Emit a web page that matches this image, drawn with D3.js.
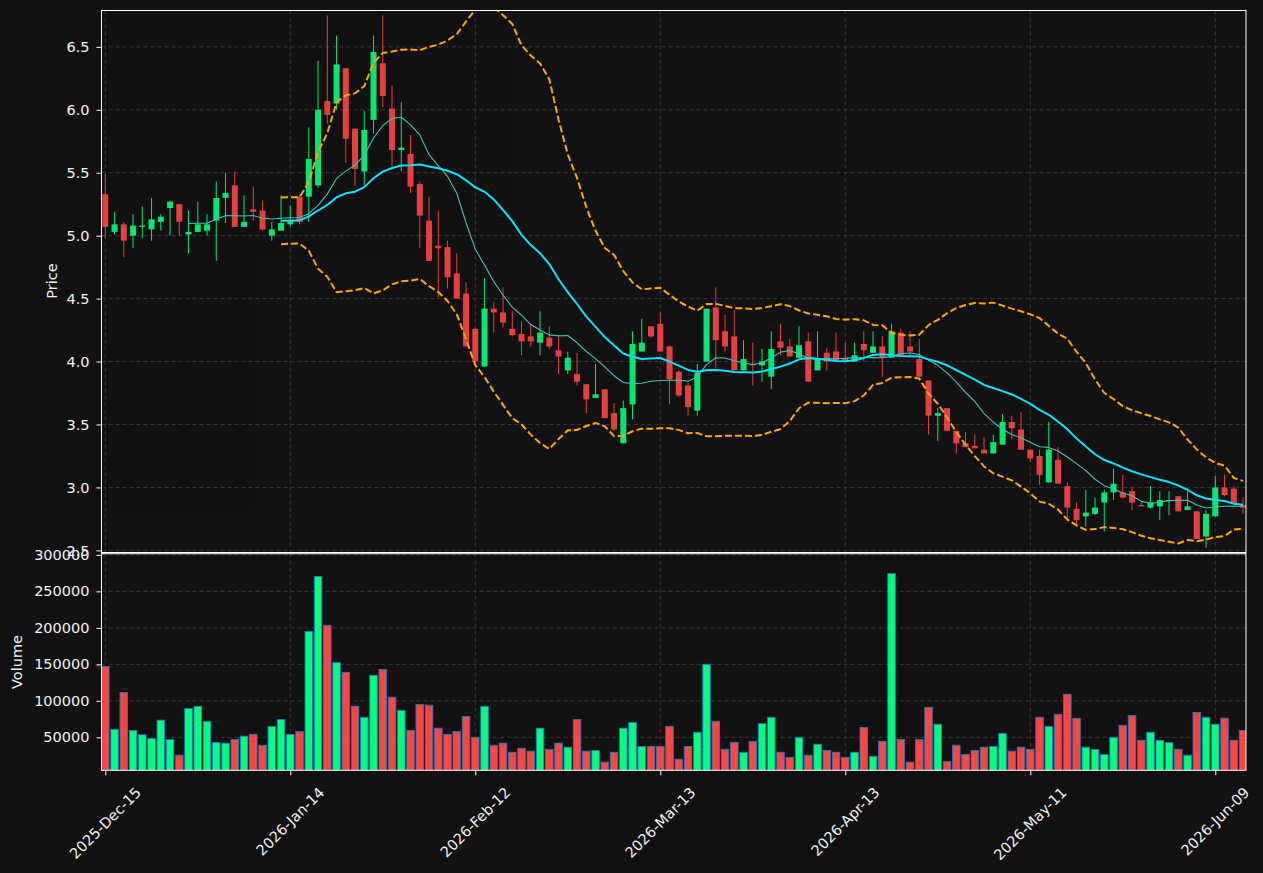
<!DOCTYPE html>
<html>
<head>
<meta charset="utf-8">
<script src="https://cdn.jsdelivr.net/npm/d3@7"></script>
<style>
  body { margin: 0; background: #111111; }
  svg text { font-family: "DejaVu Sans", sans-serif; fill: #f2f2f2; }
</style>
</head>
<body>
<div id="chart"></div>
<script>
// trading days, one bar per session; ticks every 20 bars
const tickIndex = [0, 20, 40, 60, 80, 100, 120];
const tickLabels = ["2025-Dec-15", "2026-Jan-14", "2026-Feb-12", "2026-Mar-13", "2026-Apr-13", "2026-May-11", "2026-Jun-09"];
const priceTicks = [2.5, 3.0, 3.5, 4.0, 4.5, 5.0, 5.5, 6.0, 6.5];
const volumeTicks = [50000, 100000, 150000, 200000, 250000, 300000];

const opens = [5.33, 5.03, 5.09, 5.00, 5.07, 5.05, 5.11, 5.22, 5.25, 5.01,
  5.03, 5.04, 5.12, 5.30, 5.40, 5.07, 5.21, 5.20, 5.00, 5.04,
  5.09, 5.31, 5.31, 5.40, 6.07, 6.05, 6.33, 5.85, 5.51, 5.92,
  6.37, 6.01, 5.68, 5.65, 5.41, 5.12, 4.92, 4.91, 4.70, 4.54,
  4.26, 3.96, 4.42, 4.39, 4.26, 4.22, 4.20, 4.15, 4.19, 4.09,
  3.93, 3.90, 3.82, 3.71, 3.78, 3.59, 3.35, 3.66, 4.08, 4.28,
  4.30, 4.12, 3.92, 3.81, 3.61, 4.00, 4.43, 4.24, 4.20, 3.93,
  3.98, 3.97, 3.88, 4.16, 4.12, 4.03, 4.16, 3.93, 4.07, 4.08,
  4.03, 4.00, 4.14, 4.07, 4.12, 4.03, 4.23, 4.12, 4.02, 3.85,
  3.57, 3.63, 3.45, 3.35, 3.33, 3.30, 3.27, 3.34, 3.52, 3.46,
  3.30, 3.25, 3.04, 3.22, 3.01, 2.83, 2.77, 2.79, 2.88, 2.96,
  2.96, 2.97, 2.86, 2.84, 2.85, 2.89, 2.93, 2.82, 2.81, 2.61,
  2.77, 3.00, 2.99, 2.86];
const highs = [5.49, 5.19, 5.11, 5.17, 5.23, 5.30, 5.17, 5.28, 5.25, 5.20,
  5.27, 5.17, 5.43, 5.50, 5.51, 5.32, 5.39, 5.28, 5.11, 5.32,
  5.24, 5.32, 5.86, 6.39, 6.75, 6.59, 6.33, 5.85, 5.99, 6.59,
  6.75, 6.19, 6.06, 5.80, 5.43, 5.31, 5.20, 4.96, 4.86, 4.63,
  4.27, 4.66, 4.47, 4.59, 4.40, 4.32, 4.30, 4.40, 4.28, 4.21,
  4.08, 4.07, 3.82, 3.98, 3.78, 3.67, 3.69, 4.24, 4.34, 4.28,
  4.39, 4.13, 3.93, 3.83, 3.98, 4.42, 4.59, 4.37, 4.41, 4.17,
  4.15, 4.10, 4.24, 4.30, 4.18, 4.28, 4.23, 4.24, 4.11, 4.23,
  4.15, 4.15, 4.24, 4.24, 4.20, 4.30, 4.26, 4.24, 4.18, 3.85,
  3.63, 3.63, 3.45, 3.44, 3.42, 3.40, 3.42, 3.58, 3.57, 3.60,
  3.30, 3.30, 3.52, 3.32, 3.04, 2.88, 2.98, 2.92, 2.98, 3.15,
  3.10, 3.00, 2.89, 3.01, 2.97, 2.97, 2.93, 2.97, 2.81, 2.82,
  3.09, 3.10, 3.01, 2.92];
const lows = [4.98, 5.01, 4.83, 4.90, 4.98, 4.96, 5.04, 5.00, 5.00, 4.86,
  5.03, 5.00, 4.80, 5.10, 5.07, 5.07, 5.12, 5.04, 4.96, 5.04,
  5.07, 5.09, 5.11, 5.38, 5.89, 6.00, 5.58, 5.40, 5.40, 5.81,
  6.02, 5.55, 5.51, 5.34, 4.90, 4.80, 4.51, 4.58, 4.50, 4.12,
  4.00, 3.96, 4.23, 4.27, 4.20, 4.05, 4.12, 4.05, 4.10, 3.90,
  3.90, 3.81, 3.59, 3.71, 3.55, 3.45, 3.35, 3.54, 4.08, 4.19,
  4.08, 3.66, 3.72, 3.57, 3.57, 4.00, 3.95, 4.08, 3.93, 3.93,
  3.81, 3.84, 3.78, 4.05, 4.04, 4.03, 3.84, 3.93, 3.93, 4.01,
  4.00, 4.00, 4.00, 4.07, 3.88, 4.03, 4.05, 4.05, 3.88, 3.42,
  3.37, 3.45, 3.27, 3.32, 3.31, 3.27, 3.27, 3.34, 3.38, 3.30,
  3.20, 3.02, 3.04, 3.03, 2.74, 2.69, 2.69, 2.78, 2.65, 2.90,
  2.91, 2.82, 2.85, 2.83, 2.74, 2.78, 2.81, 2.82, 2.59, 2.52,
  2.77, 2.93, 2.87, 2.79];
const closes = [5.07, 5.09, 4.96, 5.08, 5.08, 5.13, 5.15, 5.27, 5.11, 5.03,
  5.09, 5.09, 5.30, 5.34, 5.07, 5.11, 5.19, 5.05, 5.05, 5.10,
  5.12, 5.11, 5.61, 6.00, 5.96, 6.36, 5.77, 5.53, 5.84, 6.46,
  6.11, 5.68, 5.70, 5.39, 5.16, 4.80, 4.90, 4.67, 4.50, 4.12,
  4.00, 4.42, 4.39, 4.31, 4.21, 4.16, 4.16, 4.23, 4.12, 4.04,
  4.03, 3.84, 3.70, 3.74, 3.55, 3.46, 3.63, 4.14, 4.15, 4.20,
  4.08, 3.86, 3.73, 3.64, 3.91, 4.42, 4.17, 4.12, 3.93, 4.02,
  3.97, 4.00, 4.10, 4.11, 4.04, 4.13, 3.84, 4.02, 4.00, 4.01,
  4.01, 4.05, 4.09, 4.12, 4.03, 4.24, 4.05, 4.08, 3.88, 3.57,
  3.59, 3.45, 3.35, 3.32, 3.31, 3.27, 3.36, 3.52, 3.47, 3.30,
  3.23, 3.10, 3.30, 3.03, 2.84, 2.74, 2.80, 2.84, 2.96, 3.03,
  2.92, 2.88, 2.85, 2.88, 2.90, 2.90, 2.81, 2.85, 2.59, 2.79,
  3.00, 2.94, 2.87, 2.84];
const volumes = [147000, 61000, 111500, 59500, 53500, 48500, 73500, 47000, 25500, 89500,
  92500, 72000, 43000, 42000, 47000, 51500, 54000, 39000, 65000, 74500,
  54000, 58000, 195000, 270500, 203500, 152500, 139000, 92500, 77500, 135000,
  143000, 105000, 87000, 59500, 95000, 94000, 62500, 54000, 58000, 78500,
  50000, 92500, 39000, 42000, 29500, 35000, 31000, 62500, 33500, 42000,
  36500, 74500, 31000, 32000, 16000, 29500, 62500, 70500, 37500, 37500,
  37500, 65000, 20000, 37500, 57000, 150000, 72000, 33500, 43000, 29500,
  44500, 69000, 77500, 29500, 22500, 50000, 25500, 40500, 32000, 29500,
  22500, 29500, 63500, 24000, 44500, 274500, 47000, 16000, 47000, 91000,
  68000, 17000, 39000, 26500, 32000, 36500, 37500, 55500, 31000, 36500,
  33500, 77500, 65000, 81500, 109000, 76000, 36500, 33500, 26500, 50000,
  66500, 80000, 46000, 57000, 46000, 43000, 33500, 25500, 84000, 77500,
  68000, 76000, 46000, 59500];

const upColour = "#00ff80";
const downColour = "#ff4444";

function rollingMean(values, n) {
  return values.map((v, i) => i < n - 1 ? null : d3.mean(values.slice(i - n + 1, i + 1)));
}
function rollingStd(values, n) {
  return values.map((v, i) => i < n - 1 ? null : d3.deviation(values.slice(i - n + 1, i + 1)));
}

const ma10 = rollingMean(closes, 10);
const ma20 = rollingMean(closes, 20);
const sd20 = rollingStd(closes, 20);
const bbUpper = ma20.map((m, i) => m === null ? null : m + 2 * sd20[i]);
const bbLower = ma20.map((m, i) => m === null ? null : m - 2 * sd20[i]);

const width = 1263, height = 873;
const left = 101.5, right = 1246;
const priceTop = 10.5, priceBottom = 552.5;
const volTop = 553.7, volBottom = 770.3;

const svg = d3.select("#chart").append("svg")
  .attr("width", width).attr("height", height)
  .style("background", "#111111");

const x = d3.scaleLinear().domain([-0.41, 123.32]).range([left, right]);
const step = x(1) - x(0);
const yPrice = d3.scaleLinear().domain([2.483, 6.789]).range([priceBottom, priceTop]);
const yVol = d3.scaleLinear().domain([4800, 301600]).range([volBottom, volTop]);

const defs = svg.append("defs");
defs.append("clipPath").attr("id", "clipPrice").append("rect")
  .attr("x", left).attr("y", priceTop).attr("width", right - left).attr("height", priceBottom - priceTop);
defs.append("clipPath").attr("id", "clipVol").append("rect")
  .attr("x", left).attr("y", volTop).attr("width", right - left).attr("height", volBottom - volTop);

// grid
const gridColour = "#3a3a3a";
const grid = svg.append("g").attr("stroke", gridColour).attr("stroke-width", 0.9).attr("stroke-dasharray", "4,3");
grid.selectAll(".gp").data(priceTicks).enter().append("line")
  .attr("x1", left).attr("x2", right)
  .attr("y1", d => yPrice(d)).attr("y2", d => yPrice(d));
grid.selectAll(".gv").data(volumeTicks).enter().append("line")
  .attr("x1", left).attr("x2", right)
  .attr("y1", d => yVol(d)).attr("y2", d => yVol(d));
tickIndex.forEach(t => {
  grid.append("line").attr("x1", x(t)).attr("x2", x(t)).attr("y1", priceTop).attr("y2", priceBottom);
  grid.append("line").attr("x1", x(t)).attr("x2", x(t)).attr("y1", volTop).attr("y2", volBottom);
});

// candles
const bodyWidth = step * 0.65;
const candles = svg.append("g").attr("clip-path", "url(#clipPrice)").attr("opacity", 0.9);
const candle = candles.selectAll("g").data(d3.range(opens.length)).enter().append("g");
candle.append("line")
  .attr("x1", i => x(i)).attr("x2", i => x(i))
  .attr("y1", i => yPrice(highs[i])).attr("y2", i => yPrice(lows[i]))
  .attr("stroke", i => closes[i] >= opens[i] ? upColour : downColour)
  .attr("stroke-width", 1);
candle.append("rect")
  .attr("x", i => x(i) - bodyWidth / 2)
  .attr("width", bodyWidth)
  .attr("y", i => yPrice(Math.max(opens[i], closes[i])))
  .attr("height", i => Math.max(1.2, Math.abs(yPrice(opens[i]) - yPrice(closes[i]))))
  .attr("fill", i => closes[i] >= opens[i] ? upColour : downColour);

// moving averages and bands
function drawLine(values, colour, lineWidth, dash) {
  const line = d3.line()
    .defined(d => d !== null)
    .x((d, i) => x(i))
    .y(d => yPrice(d));
  svg.append("path")
    .attr("clip-path", "url(#clipPrice)")
    .datum(values)
    .attr("d", line)
    .attr("fill", "none")
    .attr("stroke", colour)
    .attr("stroke-width", lineWidth)
    .attr("stroke-dasharray", dash || null)
    .attr("stroke-linejoin", "round");
}
drawLine(ma10, "#40c2b3", 1.1);
drawLine(ma20, "#00e5ff", 2);
drawLine(bbUpper, "#ffa500", 2, "7,3");
drawLine(bbLower, "#ffa500", 2, "7,3");

// volume
svg.append("g").attr("clip-path", "url(#clipVol)")
  .selectAll("rect").data(volumes).enter().append("rect")
  .attr("x", (d, i) => x(i) - step * 0.41)
  .attr("width", step * 0.82)
  .attr("y", d => yVol(d))
  .attr("height", d => yVol.range()[0] - yVol(d) + 2)
  .attr("fill", (d, i) => closes[i] >= opens[i] ? upColour : downColour)
  .attr("stroke", "#1f77b4")
  .attr("stroke-width", 0.9);

// axes
const fontSize = "14.5px";
const priceAxis = svg.append("g").attr("transform", `translate(${left},0)`)
  .call(d3.axisLeft(yPrice).tickValues(priceTicks).tickFormat(d3.format(".1f")).tickSize(5).tickPadding(7));
const volAxis = svg.append("g").attr("transform", `translate(${left},0)`)
  .call(d3.axisLeft(yVol).tickValues(volumeTicks).tickFormat(d3.format("d")).tickSize(5).tickPadding(7));
const xAxis = svg.append("g").attr("transform", `translate(0,${volBottom})`)
  .call(d3.axisBottom(x).tickValues(tickIndex).tickFormat("").tickSize(5));
[priceAxis, volAxis, xAxis].forEach(a => {
  a.select(".domain").remove();
  a.selectAll("line").attr("stroke", "#ffffff");
  a.selectAll("text").attr("fill", "#f2f2f2").style("font-size", fontSize).attr("font-family", "DejaVu Sans");
});

// panel frames
[[priceTop, priceBottom], [volTop, volBottom]].forEach(([t, b]) => {
  svg.append("rect").attr("x", left).attr("y", t).attr("width", right - left).attr("height", b - t)
    .attr("fill", "none").attr("stroke", "#ffffff").attr("stroke-width", 1);
});

// rotated date labels
tickIndex.forEach((t, k) => {
  const label = svg.append("text")
    .attr("text-anchor", "middle")
    .attr("dominant-baseline", "central")
    .style("font-size", fontSize)
    .text(tickLabels[k]);
  const len = label.node().getComputedTextLength();
  const cy = 785 + (len + 14) / (2 * Math.SQRT2);
  label.attr("transform", `translate(${x(t)},${cy}) rotate(-45)`);
});

svg.append("text").attr("transform", "translate(52,281) rotate(-90)")
  .attr("text-anchor", "middle").attr("dominant-baseline", "central")
  .style("font-size", fontSize).text("Price");
svg.append("text").attr("transform", "translate(17,662) rotate(-90)")
  .attr("text-anchor", "middle").attr("dominant-baseline", "central")
  .style("font-size", fontSize).text("Volume");
</script>
</body>
</html>
